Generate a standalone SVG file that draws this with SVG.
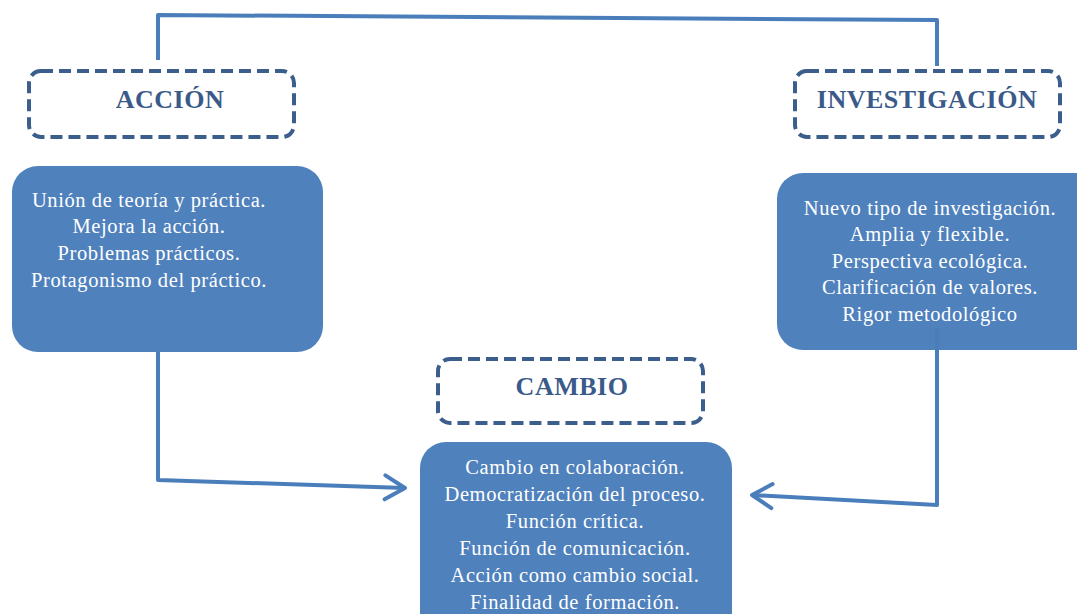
<svg xmlns="http://www.w3.org/2000/svg" width="1077" height="614" viewBox="0 0 1077 614">
<style>
.title{fill:#fff;stroke:#3B5E8C;stroke-width:4;stroke-dasharray:12 6}
.tt{font-family:"Liberation Serif",serif;font-weight:bold;font-size:26px;fill:#3A5A8A;letter-spacing:0.5px;text-anchor:middle}
.box{fill:#4F81BD}
.bt{font-family:"Liberation Serif",serif;font-size:20.5px;fill:#fff;letter-spacing:0.6px;text-anchor:middle}
.conn{fill:none;stroke:#4A7EBB;stroke-width:4;stroke-linejoin:round}
</style>
<defs>
<marker id="arr" markerUnits="userSpaceOnUse" viewBox="-23 -15 26 30" markerWidth="26" markerHeight="30" refX="0" refY="0" orient="auto">
<path d="M-20,-12 L0,0 L-20,12" fill="none" stroke="#4A7EBB" stroke-width="4" stroke-linecap="round" stroke-linejoin="round"/>
</marker>
</defs>
<rect width="1077" height="614" fill="#fff"/>
<g id="accion-title"><rect class="title" x="29" y="71" width="265" height="66" rx="12"/><text class="tt" x="170" y="108">ACCIÓN</text></g>
<g id="investigacion-title"><rect class="title" x="795" y="71" width="265" height="66" rx="12"/><text class="tt" x="927" y="108">INVESTIGACIÓN</text></g>
<g id="cambio-title"><rect class="title" x="438" y="359" width="265" height="64" rx="12"/><text class="tt" x="572" y="395">CAMBIO</text></g>
<g id="accion-box"><rect class="box" x="12" y="166" width="311" height="186" rx="26"/>
<text class="bt" x="149"><tspan x="149" y="207">Unión de teoría y práctica.</tspan><tspan x="149" y="233">Mejora la acción.</tspan><tspan x="149" y="260">Problemas prácticos.</tspan><tspan x="149" y="287">Protagonismo del práctico.</tspan></text></g>
<g id="investigacion-box"><rect class="box" x="777" y="173" width="330" height="177" rx="26"/>
<text class="bt" x="930"><tspan x="930" y="215">Nuevo tipo de investigación.</tspan><tspan x="930" y="241">Amplia y flexible.</tspan><tspan x="930" y="268">Perspectiva ecológica.</tspan><tspan x="930" y="294">Clarificación de valores.</tspan><tspan x="930" y="321">Rigor metodológico</tspan></text></g>
<g id="cambio-box"><rect class="box" x="420" y="442" width="312" height="200" rx="26"/>
<text class="bt" x="575"><tspan x="575" y="474">Cambio en colaboración.</tspan><tspan x="575" y="501">Democratización del proceso.</tspan><tspan x="575" y="528">Función crítica.</tspan><tspan x="575" y="555">Función de comunicación.</tspan><tspan x="575" y="582">Acción como cambio social.</tspan><tspan x="575" y="609">Finalidad de formación.</tspan></text></g>
<g id="connectors">
<polyline class="conn" points="158,60 158,15 937,20 937,66"/>
<polyline class="conn" points="158,352 158,480 405,488" marker-end="url(#arr)"/>
<polyline class="conn" points="937,328 937,505 752,495" marker-end="url(#arr)"/>
</g>
</svg>
